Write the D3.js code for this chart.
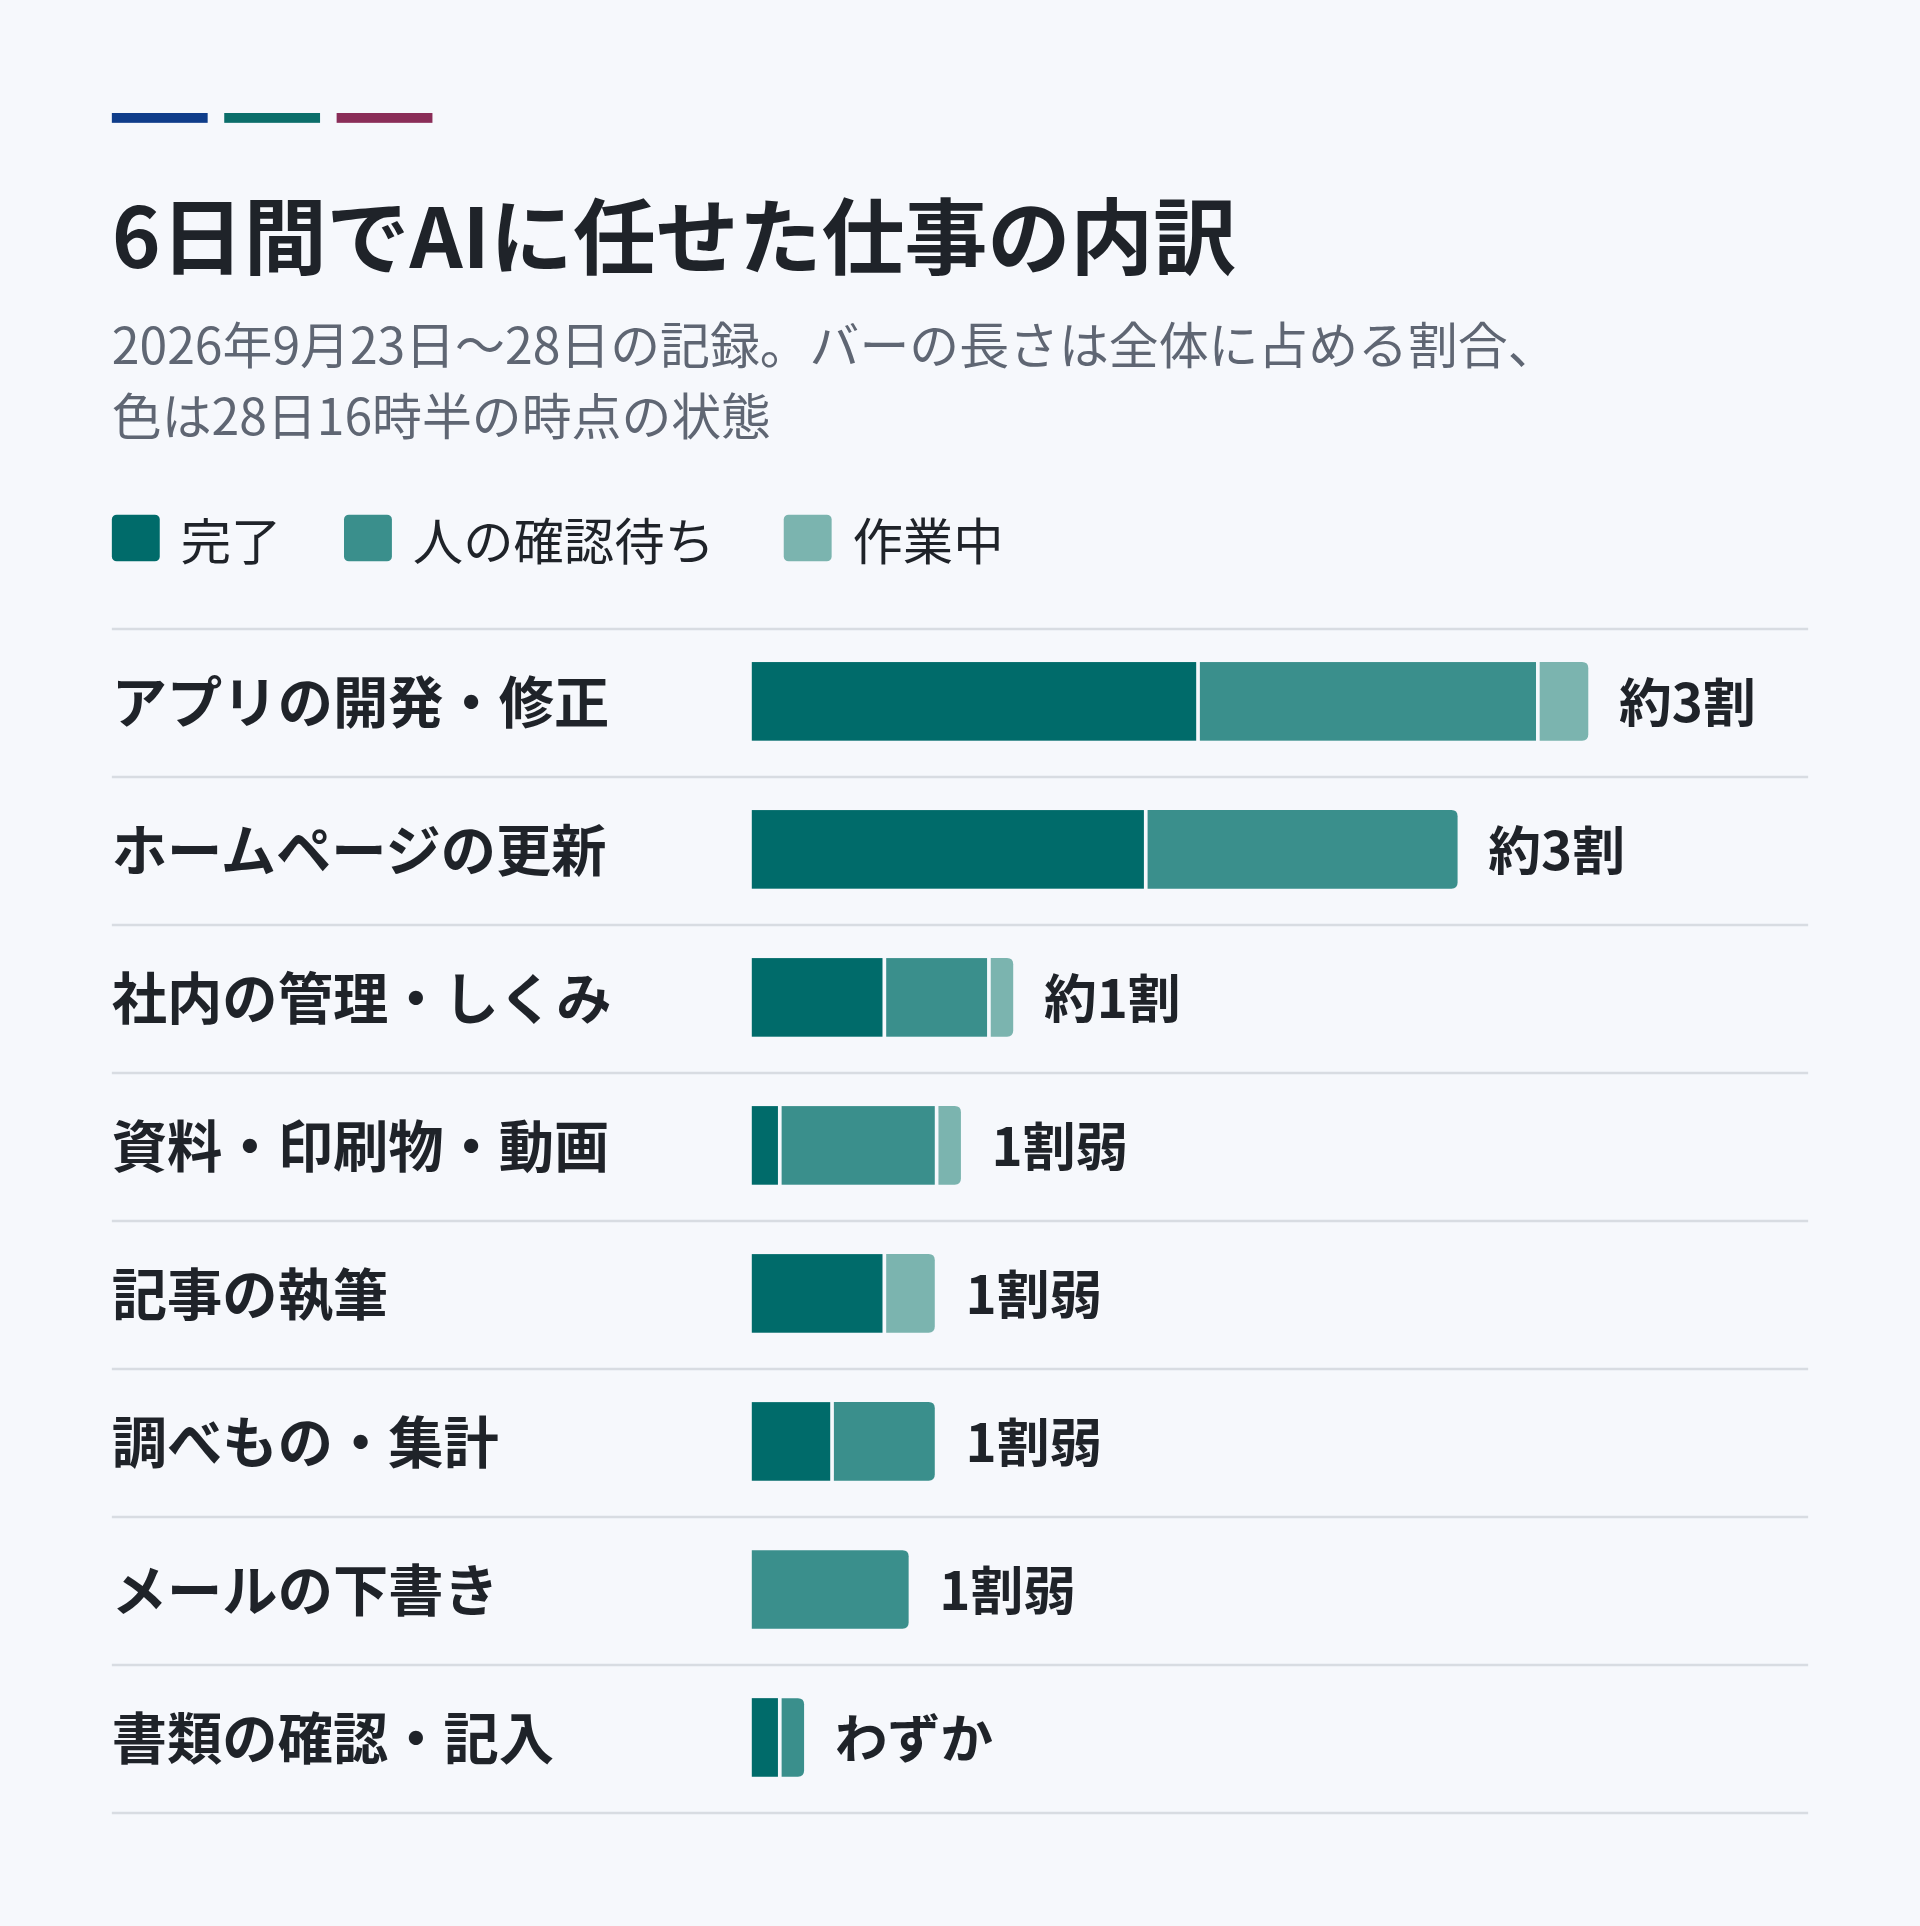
<!DOCTYPE html>
<html><head><meta charset="utf-8">
<script src="https://cdn.jsdelivr.net/npm/d3@7"></script>
<style>
html,body{margin:0;padding:0;background:#f6f8fc;}
svg{display:block;font-family:"Noto Sans CJK JP","Noto Sans",sans-serif;}
</style></head><body>
<script>
// data
var categories = ["アプリの開発・修正","ホームページの更新","社内の管理・しくみ","資料・印刷物・動画","記事の執筆","調べもの・集計","メールの下書き","書類の確認・記入"];
var done    = [17, 15, 5, 1, 5, 3, 0, 1];
var waiting = [13, 12, 4, 6, 0, 4, 6, 1];
var working = [ 2,  0, 1, 1, 2, 0, 0, 0];
var valueLabels = ["約3割","約3割","約1割","1割弱","1割弱","1割弱","1割弱","わずか"];
var seriesNames = ["完了","人の確認待ち","作業中"];
var colors = ["#006b6a","#3a8f8c","#7bb4af"];

var svg = d3.select("body").append("svg")
	.attr("width", 1920).attr("height", 1926)
	.attr("viewBox", "0 0 1563 1568");

svg.append("rect").attr("width",1563).attr("height",1568).attr("fill","#f6f8fc");

// accent bars
["#0f3d8a","#0b6e6a","#8a2d58"].forEach(function(c,i){
	svg.append("rect").attr("x",91+i*91.5).attr("y",92).attr("width",78).attr("height",8).attr("fill",c);
});

svg.append("text").attr("x",91).attr("y",218).attr("font-size",67.5).attr("font-weight",700)
	.attr("fill","#1f2329").text("6日間でAIに任せた仕事の内訳");
svg.append("text").attr("x",91).attr("y",296).attr("font-size",40.6).attr("fill","#5f6673")
	.text("2026年9月23日〜28日の記録。バーの長さは全体に占める割合、");
svg.append("text").attr("x",91).attr("y",354).attr("font-size",40.6).attr("fill","#5f6673")
	.text("色は28日16時半の時点の状態");

// legend
var lx = [91, 280, 638];
seriesNames.forEach(function(n,i){
	svg.append("rect").attr("x",lx[i]).attr("y",419).attr("width",39).attr("height",38).attr("rx",4).attr("fill",colors[i]);
	svg.append("text").attr("x",lx[i]+56).attr("y",456).attr("font-size",41).attr("fill","#1f2329").text(n);
});

var y = d3.scaleBand().domain(categories).range([512,1476]);
var x = d3.scaleLinear().domain([0,32]).range([612,1293]);

svg.append("line").attr("x1",91).attr("x2",1472).attr("y1",512).attr("y2",512).attr("stroke","#d8dce2").attr("stroke-width",2);

var stacks = categories.map(function(c,i){
	var vals = [done[i],waiting[i],working[i]], s = 0, segs = [];
	vals.forEach(function(v,k){ if(v>0){ segs.push({k:k,x0:s,x1:s+v}); } s += v; });
	return {cat:c, segs:segs, total:s, label:valueLabels[i]};
});

var row = svg.selectAll(".row").data(stacks).enter().append("g");

row.append("line").attr("x1",91).attr("x2",1472)
	.attr("y1",function(d){return y(d.cat)+y.bandwidth();})
	.attr("y2",function(d){return y(d.cat)+y.bandwidth();})
	.attr("stroke","#d8dce2").attr("stroke-width",2);

row.append("text").attr("x",91).attr("y",function(d){return y(d.cat)+y.bandwidth()/2+16;})
	.attr("font-size",45).attr("font-weight",700).attr("fill","#1f2329").text(function(d){return d.cat;});

var bh = 64;
row.each(function(d){
	var g = d3.select(this), top = y(d.cat)+27, n = d.segs.length;
	d.segs.forEach(function(s,j){
		var x0 = x(s.x0) + (j>0?3:0), x1 = x(s.x1), w = x1-x0, r = 5;
		if (j===n-1) {
			g.append("path").attr("fill",colors[s.k])
				.attr("d","M"+x0+","+top+"H"+(x1-r)+"Q"+x1+","+top+" "+x1+","+(top+r)+"V"+(top+bh-r)+"Q"+x1+","+(top+bh)+" "+(x1-r)+","+(top+bh)+"H"+x0+"Z");
		} else {
			g.append("rect").attr("x",x0).attr("y",top).attr("width",w).attr("height",bh).attr("fill",colors[s.k]);
		}
	});
	g.append("text").attr("x",x(d.total)+25).attr("y",top+bh/2+17)
		.attr("font-size",43).attr("font-weight",700).attr("fill","#1f2329").text(d.label);
});
</script>
</body></html>
